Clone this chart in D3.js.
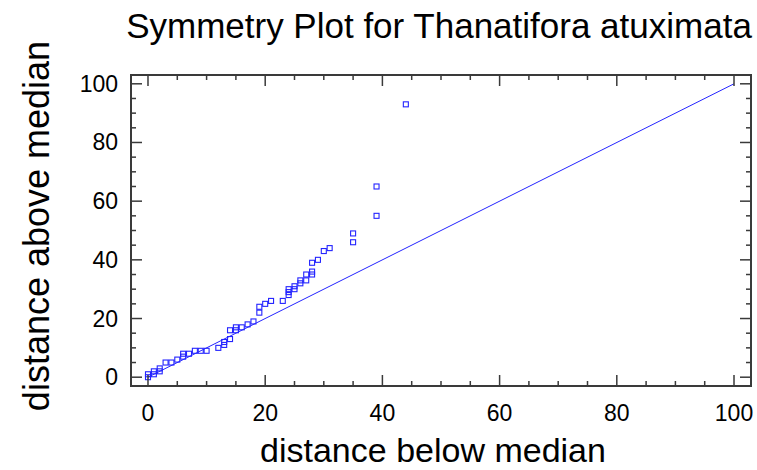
<!DOCTYPE html>
<html>
<head>
<meta charset="utf-8">
<script src="https://cdn.jsdelivr.net/npm/d3@7"></script>
<style>
  body { margin: 0; background: #fff; }
  text { font-family: "Liberation Sans", Arial, sans-serif; fill: #000; }
</style>
</head>
<body>
<svg id="chart" width="757" height="470"></svg>
<script>
// distance below / above median
var below = [0, 0, 1, 1, 2, 2, 3, 4, 5, 6, 6, 7, 8, 9, 10, 12, 13, 13, 14, 14,
             15, 15, 16, 17, 18, 19, 19, 20, 21, 23, 24, 24, 24, 25, 25, 26, 26, 27, 27, 28,
             28, 28, 29, 30, 31, 35, 35, 39, 39, 44];
var above = [0, 1, 1, 2, 2, 3, 5, 5, 6, 7, 8, 8, 9, 9, 9, 10, 11, 12, 13, 16,
             16, 17, 17, 18, 19, 22, 24, 25, 26, 26, 28, 29, 30, 30, 31, 32, 33, 33, 35, 35,
             36, 39, 40, 43, 44, 46, 49, 55, 65, 93];
var refLine = [0, 100];
var tickValues = [0, 20, 40, 60, 80, 100];
var minorTicks = d3.range(0, 101, 5);

var svg = d3.select("#chart");

var box = { left: 131, right: 751, top: 75, bottom: 386 };

var x = d3.scaleLinear()
    .domain([-2.9, 102.9])
    .range([box.left, box.right]);

var y = d3.scaleLinear()
    .domain([-3, 103])
    .range([box.bottom, box.top]);

var blue = "#2424ff";

// reference line y = x
svg.append("line")
    .attr("x1", x(refLine[0])).attr("y1", y(refLine[0]))
    .attr("x2", x(refLine[1])).attr("y2", y(refLine[1]))
    .attr("stroke", blue)
    .attr("stroke-width", 1);

// points
var pts = below.map(function(d, i) { return [d, above[i]]; });
svg.append("g")
  .selectAll("rect")
  .data(pts)
  .enter().append("rect")
    .attr("x", function(d) { return x(d[0]) - 2.5; })
    .attr("y", function(d) { return y(d[1]) - 2.5; })
    .attr("width", 5)
    .attr("height", 5)
    .attr("fill", "none")
    .attr("stroke", blue)
    .attr("stroke-width", 1.1);

// frame with inward ticks on all four sides
var frameCol = "#3a3a3a";
var ticks = svg.append("g").attr("stroke", frameCol).attr("stroke-width", 1.5);
function len(v) { return v % 20 === 0 ? 11 : 5; }

minorTicks.forEach(function(v) {
  ticks.append("line")
      .attr("x1", x(v)).attr("x2", x(v))
      .attr("y1", box.bottom).attr("y2", box.bottom - len(v));
  ticks.append("line")
      .attr("x1", x(v)).attr("x2", x(v))
      .attr("y1", box.top).attr("y2", box.top + len(v));
  ticks.append("line")
      .attr("y1", y(v)).attr("y2", y(v))
      .attr("x1", box.left).attr("x2", box.left + len(v));
  ticks.append("line")
      .attr("y1", y(v)).attr("y2", y(v))
      .attr("x1", box.right).attr("x2", box.right - len(v));
});

svg.append("rect")
    .attr("x", box.left).attr("y", box.top)
    .attr("width", box.right - box.left)
    .attr("height", box.bottom - box.top)
    .attr("fill", "none")
    .attr("stroke", frameCol)
    .attr("stroke-width", 2);

// tick labels
svg.append("g")
  .selectAll("text")
  .data(tickValues)
  .enter().append("text")
    .attr("x", function(d) { return x(d); })
    .attr("y", 421)
    .attr("text-anchor", "middle")
    .attr("font-size", 23)
    .text(function(d) { return d; });

svg.append("g")
  .selectAll("text")
  .data(tickValues)
  .enter().append("text")
    .attr("x", 118)
    .attr("y", function(d) { return y(d) + 8; })
    .attr("text-anchor", "end")
    .attr("font-size", 23)
    .text(function(d) { return d; });

// titles
svg.append("text")
    .attr("x", 439)
    .attr("y", 38)
    .attr("text-anchor", "middle")
    .attr("font-size", 35)
    .text("Symmetry Plot for Thanatifora atuximata");

svg.append("text")
    .attr("x", 433)
    .attr("y", 462)
    .attr("text-anchor", "middle")
    .attr("font-size", 34)
    .text("distance below median");

svg.append("text")
    .attr("transform", "translate(49,226) rotate(-90)")
    .attr("text-anchor", "middle")
    .attr("font-size", 36)
    .text("distance above median");
</script>
</body>
</html>
